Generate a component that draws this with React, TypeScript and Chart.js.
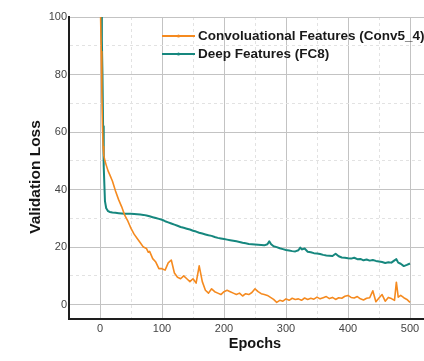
import React, { useEffect, useRef } from 'react';
import { Chart, registerables } from 'chart.js';

Chart.register(...registerables);

const seriesNames = ['Convoluational Features (Conv5_4)', 'Deep Features (FC8)'];
const seriesColors = ['#f58a1f', '#16877e'];
const xTitle = 'Epochs';
const yTitle = 'Validation Loss';
const xLabelTicks = [0, 100, 200, 300, 400, 500];
const yLabelTicks = [0, 20, 40, 60, 80, 100];

const convEpochs = [
  1, 2, 3, 4, 5, 6, 8, 10, 13, 16, 20, 25, 30, 35, 40, 45, 50, 55, 60, 65, 70, 75, 78, 80, 85, 90, 95,
  100, 105, 110, 115, 120, 125, 130, 135, 140, 145, 150, 155, 160, 165, 170, 175, 180, 185, 190, 195,
  200, 205, 210, 215, 220, 225, 230, 235, 240, 245, 250, 255, 260, 265, 270, 275, 280, 285, 290, 295,
  300, 305, 310, 315, 320, 325, 330, 335, 340, 345, 350, 355, 360, 365, 370, 375, 380, 385, 390, 395,
  400, 405, 410, 415, 420, 425, 430, 435, 440, 445, 450, 455, 460, 465, 470, 475, 478, 481, 485, 490, 495, 500,
];
const convLoss = [
  100, 88, 74, 62, 55, 52, 50, 48.5, 46.5, 45, 43, 39.5, 36.5, 34, 31, 29, 26.5, 24.5, 23, 21.5, 20, 19.5, 18.2, 18.5, 16, 14.8, 12.5,
  12.5, 12, 14.5, 15.5, 11, 9.5, 9, 10, 9, 8, 9, 7.5, 13.5, 8, 5, 4, 5.5, 4.5, 4, 3.5,
  4.5, 5, 4.5, 4, 3.5, 4, 3, 3.8, 3.5, 4.2, 5.5, 4.5, 3.8, 3.5, 3.2, 2.5, 1.8, 0.8, 1.5, 1.2,
  2, 1.5, 2.2, 1.8, 2, 1.5, 2.3, 1.8, 2.2, 1.9, 2.6, 2, 2.4, 2.8, 2.1, 2.5, 1.8, 2.4, 2.2, 2.9,
  3.2, 2.5, 2.3, 2.8, 2, 1.6, 2.2, 2.4, 4.8, 1, 2.3, 3.5, 1.2, 2.5, 2.1, 1.5, 7.8, 2.6, 3.2, 2.4, 1.8, 0.8,
];

const deepEpochs = [
  1, 2, 3, 4, 5, 6, 8, 10, 13, 16, 20, 25, 30, 35, 40, 45, 50, 55, 60, 65, 70, 75, 80, 85, 90, 95,
  100, 105, 110, 115, 120, 125, 130, 135, 140, 145, 150, 155, 160, 165, 170, 175, 180, 185, 190, 195,
  200, 205, 210, 215, 220, 225, 230, 235, 240, 245, 250, 255, 260, 265, 270, 273, 276, 280, 285, 290, 295,
  300, 305, 310, 315, 320, 323, 326, 330, 335, 340, 345, 350, 355, 360, 365, 370, 375, 380, 385, 390, 395,
  400, 405, 410, 415, 420, 425, 430, 435, 440, 445, 450, 455, 460, 465, 470, 475, 478, 481, 485, 490, 495, 500,
];
const deepLoss = [
  100, 100, 92, 80, 62, 48, 36, 33.5, 32.5, 32.2, 32, 31.9, 31.8, 31.7, 31.6, 31.6, 31.6, 31.5, 31.4, 31.3, 31.2, 31, 30.7, 30.4, 30.1, 29.8,
  29.5, 29, 28.6, 28.2, 27.8, 27.4, 27, 26.7, 26.4, 26.1, 25.7, 25.4, 25, 24.7, 24.4, 24.1, 23.9, 23.5, 23.2, 23,
  22.8, 22.6, 22.4, 22.2, 22, 21.8, 21.5, 21.3, 21.1, 21, 20.9, 20.8, 20.7, 20.6, 21, 22, 21, 20.3, 20, 19.6, 19.3,
  19, 18.8, 18.6, 18.5, 18.9, 19.8, 19.2, 19.5, 18.4, 18.2, 17.9, 17.8, 17.6, 17.3, 17.1, 17, 16.9, 17.7, 16.8, 16.4, 16.3,
  16.1, 16, 16.3, 15.8, 15.9, 15.4, 15.7, 15.3, 15.5, 15.2, 15, 14.8, 14.5, 14.7, 14.6, 15.4, 15.8, 14.6, 14.2, 13.4, 13.8, 14.3,
];

const FONT = '"Liberation Sans", Arial, Helvetica, sans-serif';

const overlayPlugin = {
  id: 'overlay',
  afterDraw(chart: any) {
    const { ctx, chartArea } = chart;
    ctx.save();
    const lx = chartArea.left + 93;
    const ly = chartArea.top + 19;
    const rowH = 18;
    chart.data.datasets.forEach((ds: any, i: number) => {
      const y = ly + i * rowH;
      ctx.strokeStyle = ds.borderColor;
      ctx.lineWidth = 2;
      ctx.beginPath();
      ctx.moveTo(lx, y);
      ctx.lineTo(lx + 33, y);
      ctx.stroke();
      ctx.fillStyle = ds.borderColor;
      ctx.beginPath();
      ctx.arc(lx + 16.5, y, 1.6, 0, Math.PI * 2);
      ctx.fill();
      ctx.fillStyle = '#1a1a1a';
      ctx.font = `bold 13.5px ${FONT}`;
      ctx.textBaseline = 'middle';
      ctx.textAlign = 'left';
      ctx.fillText(ds.label, lx + 36, y + 0.5);
    });
    ctx.translate(36, 177);
    ctx.rotate(-Math.PI / 2);
    ctx.font = `bold 15.5px ${FONT}`;
    ctx.fillStyle = '#151515';
    ctx.textAlign = 'center';
    ctx.textBaseline = 'middle';
    ctx.fillText(yTitle, 0, 0);
    ctx.restore();
  },
};

export default function App() {
  const ref = useRef<HTMLCanvasElement | null>(null);

  useEffect(() => {
    document.body.style.margin = '0';
    const canvas = ref.current;
    if (!canvas) return;
    const chart = new Chart(canvas, {
      type: 'line',
      data: {
        datasets: [
          {
            label: seriesNames[0],
            data: convEpochs.map((x, i) => ({ x, y: convLoss[i] })),
            borderColor: seriesColors[0],
            borderWidth: 1.6,
            pointRadius: 0,
            tension: 0,
            borderJoinStyle: 'round',
          },
          {
            label: seriesNames[1],
            data: deepEpochs.map((x, i) => ({ x, y: deepLoss[i] })),
            borderColor: seriesColors[1],
            borderWidth: 2,
            pointRadius: 0,
            tension: 0,
            borderJoinStyle: 'round',
          },
        ],
      },
      options: {
        responsive: false,
        animation: false,
        layout: { padding: { top: 17, left: 0, right: 0, bottom: 0 } },
        plugins: { legend: { display: false }, tooltip: { enabled: false } },
        scales: {
          x: {
            type: 'linear',
            min: -50,
            max: 550,
            afterFit: (s: any) => { s.height = 42; },
            ticks: {
              stepSize: 50,
              maxTicksLimit: 100,
              autoSkip: false,
              maxRotation: 0,
              padding: 3,
              color: '#444',
              font: { family: FONT, size: 11 },
              callback: (v: any) => (xLabelTicks.includes(Number(v)) ? String(v) : ''),
            },
            grid: {
              drawTicks: false,
              lineWidth: 1,
              color: (c: any) => {
                const v = c.tick ? c.tick.value : NaN;
                if (!(v > -50 && v <= 500)) return 'rgba(0,0,0,0)';
                return v % 100 === 0 ? '#c3c3c3' : '#e2e2e2';
              },
            },
            border: {
              display: true,
              color: '#1e1e1e',
              width: 2,
              dash: (c: any) => (c.tick && c.tick.value % 100 !== 0 ? [3, 3] : []),
            },
            title: {
              display: true,
              text: xTitle,
              color: '#151515',
              font: { family: FONT, size: 14.5, weight: 'bold' },
              padding: { top: 0, bottom: 8 },
            },
          },
          y: {
            type: 'linear',
            min: -5,
            max: 100,
            afterFit: (s: any) => { s.width = 69; },
            ticks: {
              stepSize: 10,
              maxTicksLimit: 100,
              autoSkip: false,
              padding: 2,
              color: '#444',
              font: { family: FONT, size: 11 },
              callback: (v: any) => (yLabelTicks.includes(Number(v)) ? String(v) : ''),
            },
            grid: {
              drawTicks: false,
              lineWidth: 1,
              color: (c: any) => {
                const v = c.tick ? c.tick.value : NaN;
                if (!(v > -5 && v <= 100)) return 'rgba(0,0,0,0)';
                return v % 20 === 0 ? '#c3c3c3' : '#e2e2e2';
              },
            },
            border: {
              display: true,
              color: '#1e1e1e',
              width: 2,
              dash: (c: any) => (c.tick && c.tick.value % 20 !== 0 ? [3, 3] : []),
            },
          },
        },
      },
      plugins: [overlayPlugin],
    } as any);
    return () => chart.destroy();
  }, []);

  return (
    <div style={{ width: 424, height: 361, overflow: 'hidden', position: 'relative', background: '#fff' }}>
      <canvas ref={ref} width={444} height={361} style={{ width: 444, height: 361, display: 'block' }} />
    </div>
  );
}
